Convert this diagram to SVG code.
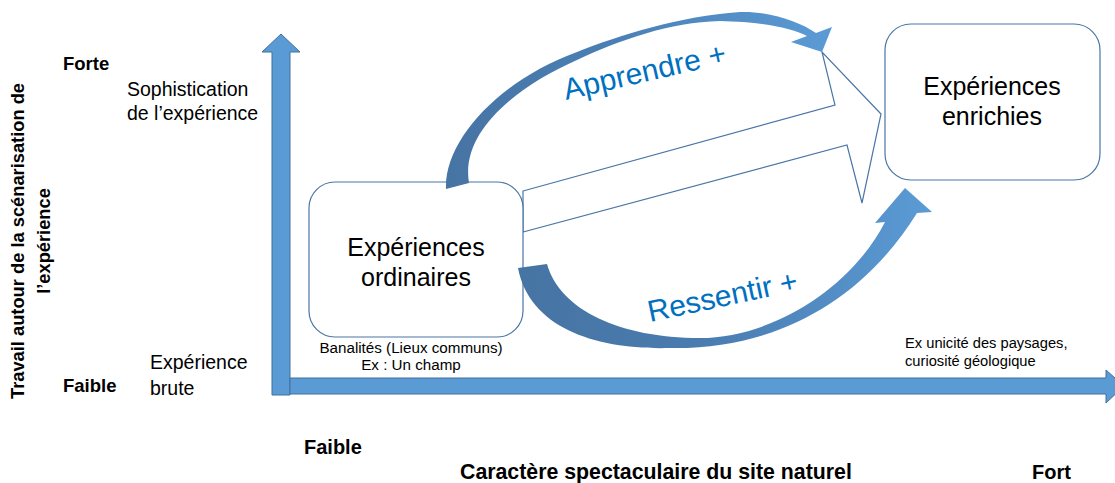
<svg xmlns="http://www.w3.org/2000/svg" width="1115" height="483" viewBox="0 0 1115 483">
<style>
.ax{fill:#5b9bd5;stroke:#41719c;stroke-width:1}
.box{fill:#ffffff;stroke:#4a76a6;stroke-width:1.2}
.callout{fill:#ffffff;stroke:#4a76a6;stroke-width:1.2;stroke-linejoin:miter}
.t{font-family:"Liberation Sans",Arial,sans-serif;fill:#000000}
.b{font-family:"Liberation Sans",Arial,sans-serif;font-weight:bold;fill:#000000}
.blue{font-family:"Liberation Sans",Arial,sans-serif;fill:#0070c0;font-size:30px}
</style>
<defs>
<linearGradient id="gTop" gradientUnits="userSpaceOnUse" x1="446" y1="0" x2="832" y2="0">
<stop offset="0" stop-color="#4674a3"/>
<stop offset="0.45" stop-color="#4b80b6"/>
<stop offset="1" stop-color="#5b9bd5"/>
</linearGradient>
<linearGradient id="gBot" gradientUnits="userSpaceOnUse" x1="518" y1="0" x2="932" y2="0">
<stop offset="0" stop-color="#4674a3"/>
<stop offset="0.45" stop-color="#4a7cb0"/>
<stop offset="1" stop-color="#5b9bd5"/>
</linearGradient>
</defs>

<g id="axes">
<polygon class="ax" points="272,395 272,52 262,52 281,34 300,52 290,52 290,395"/>
<polygon class="ax" points="290,378 1106,378 1106,370 1124,386 1106,403 1106,394 290,394"/>
</g>

<g id="connectors">
<polygon id="big-arrow" class="callout" points="523,191 835,105 822,52 881,114 862,203 847,145 523,232"/>
</g>

<g id="node-ordinaires">
<rect class="box" x="309" y="182" width="214" height="155" rx="26" ry="26"/>
<text class="t" font-size="25" text-anchor="middle" x="416" y="256">Expériences</text>
<text class="t" font-size="25" text-anchor="middle" x="416" y="286">ordinaires</text>
</g>

<g id="node-enrichies">
<rect class="box" x="885" y="24" width="215" height="156" rx="26" ry="26"/>
<text class="t" font-size="25" text-anchor="middle" x="992" y="95">Expériences</text>
<text class="t" font-size="25" text-anchor="middle" x="992" y="125">enrichies</text>
</g>

<g id="curved-arrows">
<path id="apprendre-arrow" fill="url(#gTop)" d="M446,189 C444,140 500,80 577,52 C620,35 680,16 740,12 C770,11 800,22 816,33 L832,27 L822,52 L791,42 L807,36 C790,27 760,22 720,21 C670,22 620,40 577,60 C520,85 460,130 469,183 Z"/>
<path id="ressentir-arrow" fill="url(#gBot)" d="M518,268 C530,330 600,350 670,348 C770,350 860,305 917,213 L932,212 L905,188 L875,223 L885,222 C850,290 770,338 700,338 C620,338 560,310 547,264 Z"/>
<text class="blue" transform="translate(566,100) rotate(-13)">Apprendre +</text>
<text class="blue" transform="translate(650,322) rotate(-12)">Ressentir +</text>
</g>

<g id="labels">
<text class="b" font-size="18.5" x="63" y="70">Forte</text>
<text class="b" font-size="18.5" x="63" y="392">Faible</text>
<text class="t" font-size="19.5" x="127" y="96">Sophistication</text>
<text class="t" font-size="19.5" x="127" y="120">de l’expérience</text>
<text class="t" font-size="19.5" x="150" y="369">Expérience</text>
<text class="t" font-size="19.5" x="150" y="395">brute</text>
<text class="t" font-size="15.2" text-anchor="middle" x="411" y="353">Banalités (Lieux communs)</text>
<text class="t" font-size="15.2" text-anchor="middle" x="411" y="370">Ex : Un champ</text>
<text class="t" font-size="14.7" x="905" y="348">Ex unicité des paysages,</text>
<text class="t" font-size="14.7" x="905" y="366">curiosité géologique</text>
<text class="b" font-size="20" x="304" y="454">Faible</text>
<text class="b" font-size="21.3" x="460" y="479">Caractère spectaculaire du site naturel</text>
<text class="b" font-size="20" x="1032" y="479">Fort</text>
<g transform="translate(24,241) rotate(-90)">
<text class="b" font-size="18.3" text-anchor="middle" x="0" y="0">Travail autour de la scénarisation de</text>
<text class="b" font-size="18.3" text-anchor="middle" x="0" y="26">l’expérience</text>
</g>
</g>
</svg>
